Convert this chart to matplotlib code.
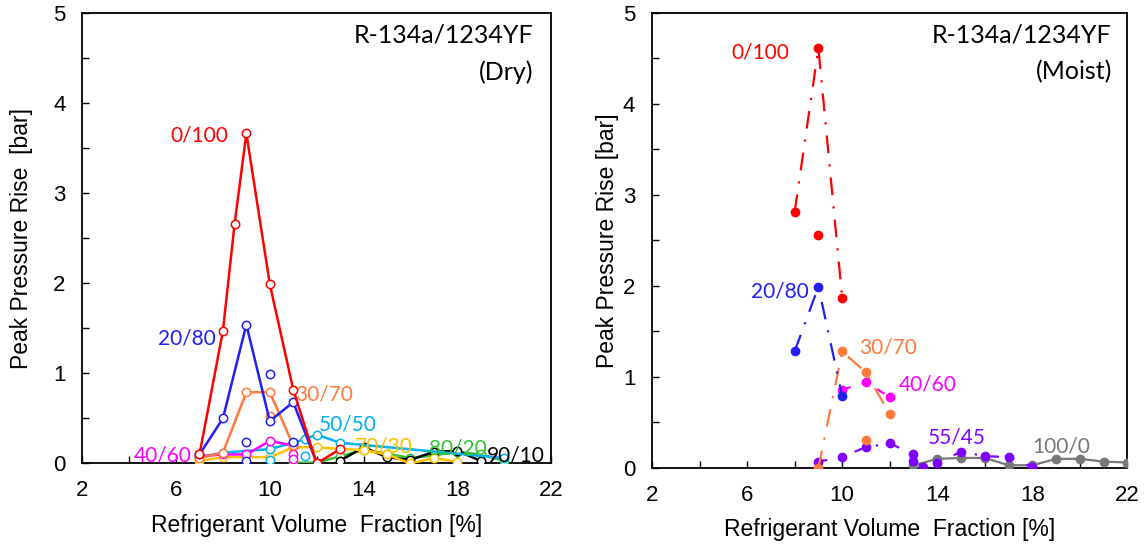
import matplotlib
matplotlib.use("Agg")
import matplotlib.pyplot as plt

# ---- Dry (left) ----
dry_red_x = [7, 8, 8.5, 9, 10, 11, 12, 13]
dry_red_y = [0.1, 1.47, 2.66, 3.66, 1.99, 0.82, 0.0, 0.16]
dry_blue_x = [7, 8, 9, 10, 11, 12]
dry_blue_y = [0.1, 0.5, 1.54, 0.47, 0.68, 0.01]
dry_blue_ex_x = [9, 9, 10, 11]
dry_blue_ex_y = [0.24, 0.03, 0.99, 0.24]
dry_orange_x = [7, 8, 9, 10, 11]
dry_orange_y = [0.06, 0.12, 0.79, 0.79, 0.2]
dry_orange_ex_x = [10]
dry_orange_ex_y = [0.53]
dry_magenta_x = [7, 8, 9, 10, 11]
dry_magenta_y = [0.08, 0.1, 0.1, 0.25, 0.2]
dry_magenta_ex_x = [11, 11]
dry_magenta_ex_y = [0.1, 0.05]
dry_cyan_x = [7, 8, 10, 11, 11.5, 12, 13, 20]
dry_cyan_y = [0.07, 0.12, 0.16, 0.23, 0.27, 0.32, 0.23, 0.06]
dry_cyan_ex_x = [10, 11.5]
dry_cyan_ex_y = [0.04, 0.08]
dry_yellow_x = [7, 8, 10, 11, 12, 13, 14, 15, 16, 17, 18]
dry_yellow_y = [0.03, 0.07, 0.07, 0.18, 0.18, 0.16, 0.15, 0.1, 0.0, 0.06, 0.02]
dry_green_x = [11, 12, 13, 14, 15, 16, 17, 18, 19, 20]
dry_green_y = [0.01, 0.01, 0.08, 0.15, 0.11, 0.06, 0.09, 0.13, 0.1, 0.03]
dry_black_x = [13, 14, 15, 16, 17, 18, 19]
dry_black_y = [0.03, 0.18, 0.07, 0.04, 0.13, 0.14, 0.03]

# ---- Moist (right) ----
moist_red_x = [8, 9, 10]
moist_red_y = [2.81, 4.61, 1.87]
moist_red_ex_x = [9]
moist_red_ex_y = [2.56]
moist_blue_x = [8, 9, 10]
moist_blue_y = [1.28, 1.99, 0.79]
moist_orange_x = [9, 10, 11, 12]
moist_orange_y = [0.0, 1.28, 1.05, 0.59]
moist_orange_ex_x = [11]
moist_orange_ex_y = [0.31]
moist_magenta_x = [10, 11, 12]
moist_magenta_y = [0.86, 0.94, 0.78]
moist_purple_x = [9, 10, 11, 12, 13, 13, 13.4, 14, 15, 16, 17, 18]
moist_purple_y = [0.07, 0.12, 0.23, 0.27, 0.15, 0.08, 0.01, 0.05, 0.18, 0.13, 0.12, 0.01]
moist_gray_x = [13, 14, 15, 16, 17, 18, 19, 20, 21, 22]
moist_gray_y = [0.03, 0.1, 0.11, 0.11, 0.03, 0.03, 0.1, 0.1, 0.07, 0.06]

RED = "#FF0000"
BLUE = "#2020F0"
ORANGE = "#FF7A3C"
MAGENTA = "#FF00FF"
CYAN = "#00B0F0"
YELLOW = "#FFC000"
GREEN = "#33C133"
BLACK = "#000000"
PURPLE = "#8000FF"
GRAY = "#787878"

xticks = list(range(2, 23, 2))
xlabels = [str(v) if (v - 2) % 4 == 0 else "" for v in xticks]
yticks = [i * 0.5 for i in range(11)]
ylabels = [str(int(v)) if v == int(v) else "" for v in yticks]

ANN = "Lato"
TICKF = "Liberation Sans"

fig = plt.figure(figsize=(11.45, 5.46), dpi=100)
ax1 = fig.add_axes([0.0719, 0.1511, 0.4093, 0.826])
ax2 = fig.add_axes([0.5694, 0.1429, 0.4153, 0.8339])

for ax in (ax1, ax2):
    ax.set_xlim(2, 22)
    ax.set_ylim(0, 5)
    ax.set_xticks(xticks)
    ax.set_xticklabels(xlabels, fontsize=16, family=TICKF)
    ax.set_yticks(yticks)
    ax.set_yticklabels(ylabels, fontsize=16, family=TICKF)
    ax.tick_params(direction="in", length=5, width=1, pad=12)
    ax.tick_params(axis="y", pad=12)
    for s in ax.spines.values():
        s.set_linewidth(1.3)
    ax.set_xlabel("Refrigerant Volume  Fraction [%]", fontsize=16.5, family=TICKF, labelpad=9)

ax1.set_ylabel("Peak Pressure Rise  [bar]", fontsize=16.5, family=TICKF)
ax2.set_ylabel("Peak Pressure Rise [bar]", fontsize=16.5, family=TICKF)
ax1.yaxis.set_label_coords(-0.105, 0.5)
ax2.yaxis.set_label_coords(-0.07, 0.5)

# left: open circles, solid lines
def dry(x, y, c, line=True):
    ax1.plot(x, y, linestyle="-" if line else "none", color=c, lw=1.8, marker="o", ms=6,
             mfc="white", mec=c, mew=1.1, zorder=3)

dry(dry_green_x, dry_green_y, GREEN)
dry(dry_black_x, dry_black_y, BLACK)
dry(dry_yellow_x, dry_yellow_y, YELLOW)
dry(dry_cyan_x, dry_cyan_y, CYAN)
dry(dry_cyan_ex_x, dry_cyan_ex_y, CYAN, False)
dry(dry_magenta_x, dry_magenta_y, MAGENTA)
dry(dry_magenta_ex_x, dry_magenta_ex_y, MAGENTA, False)
dry(dry_orange_x, dry_orange_y, ORANGE)
dry(dry_orange_ex_x, dry_orange_ex_y, ORANGE, False)
dry(dry_blue_x, dry_blue_y, BLUE)
dry(dry_blue_ex_x, dry_blue_ex_y, BLUE, False)
dry(dry_red_x, dry_red_y, RED)

ax1.text(7.0, 3.64, "0/100", color=RED, fontsize=15, family=ANN, ha="center", va="center")
ax1.text(6.45, 1.39, "20/80", color=BLUE, fontsize=15, family=ANN, ha="center", va="center")
ax1.text(12.3, 0.77, "30/70", color=ORANGE, fontsize=15, family=ANN, ha="center", va="center")
ax1.text(5.43, 0.09, "40/60", color=MAGENTA, fontsize=15, family=ANN, ha="center", va="center")
ax1.text(13.33, 0.43, "50/50", color=CYAN, fontsize=15, family=ANN, ha="center", va="center")
ax1.text(14.85, 0.19, "70/30", color=YELLOW, fontsize=15, family=ANN, ha="center", va="center")
ax1.text(18.01, 0.17, "80/20", color=GREEN, fontsize=15, family=ANN, ha="center", va="center")
ax1.text(20.5, 0.09, "90/10", color=BLACK, fontsize=15, family=ANN, ha="center", va="center")
ax1.text(0.962, 0.95, "R-134a/1234YF", transform=ax1.transAxes, fontsize=18, family=ANN,
         ha="right", va="center")
ax1.text(0.962, 0.867, "(Dry)", transform=ax1.transAxes, fontsize=18, family=ANN,
         ha="right", va="center")

# right: filled circles, dash-dot lines
def moist(x, y, c, ls="-.", line=True):
    ax2.plot(x, y, linestyle=ls if line else "none", color=c, lw=1.6, marker="o", ms=6,
             mfc=c, mec=c, zorder=3)

moist(moist_gray_x, moist_gray_y, GRAY, "-")
moist(moist_purple_x, moist_purple_y, PURPLE, (0, (4, 6, 1, 6)))
moist(moist_magenta_x, moist_magenta_y, MAGENTA, (0, (4, 6, 1, 6)))
moist(moist_orange_x, moist_orange_y, ORANGE, (0, (8, 5, 1, 5)))
moist(moist_orange_ex_x, moist_orange_ex_y, ORANGE, line=False)
moist(moist_blue_x, moist_blue_y, BLUE, (0, (8, 5, 1, 5)))
moist(moist_red_x, moist_red_y, RED, (0, (8, 5, 1, 5)))
moist(moist_red_ex_x, moist_red_ex_y, RED, line=False)

ax2.text(6.54, 4.56, "0/100", color=RED, fontsize=15, family=ANN, ha="center", va="center")
ax2.text(7.38, 1.94, "20/80", color=BLUE, fontsize=15, family=ANN, ha="center", va="center")
ax2.text(11.94, 1.32, "30/70", color=ORANGE, fontsize=15, family=ANN, ha="center", va="center")
ax2.text(13.6, 0.92, "40/60", color=MAGENTA, fontsize=15, family=ANN, ha="center", va="center")
ax2.text(14.81, 0.34, "55/45", color=PURPLE, fontsize=15, family=ANN, ha="center", va="center")
ax2.text(19.21, 0.24, "100/0", color=GRAY, fontsize=15, family=ANN, ha="center", va="center")
ax2.text(0.967, 0.951, "R-134a/1234YF", transform=ax2.transAxes, fontsize=18, family=ANN,
         ha="right", va="center")
ax2.text(0.967, 0.87, "(Moist)", transform=ax2.transAxes, fontsize=18, family=ANN,
         ha="right", va="center")

fig.savefig("out.png", dpi=100)
